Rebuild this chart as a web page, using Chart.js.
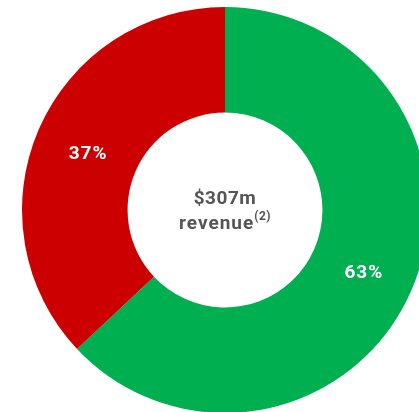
<!DOCTYPE html>
<html>
<head>
<meta charset="utf-8">
<script src="https://cdn.jsdelivr.net/npm/chart.js@4"></script>
<style>
  html, body { margin: 0; padding: 0; background: #fff; overflow: hidden; }
  #wrap { position: absolute; left: 0; top: 0; width: 450px; height: 420px; }
</style>
</head>
<body>
<div id="wrap"><canvas id="myChart" width="450" height="420"></canvas></div>
<script>
const labels = ['Segment A', 'Segment B'];
const values = [63, 37];
const colors = ['#00AF50', '#CC0000'];
const totalText = '$307m';
const subText = 'revenue';
const noteText = '(2)';

const labelPlugin = {
    id: 'labelPlugin',
    afterDatasetsDraw(chart) {
        const ctx = chart.ctx;
        const meta = chart.getDatasetMeta(0);
        ctx.save();
        ctx.fillStyle = '#ffffff';
        ctx.font = 'bold 19px Roboto';
        ctx.letterSpacing = '1px';
        ctx.textAlign = 'center';
        ctx.textBaseline = 'middle';
        meta.data.forEach((arc, i) => {
            const p = arc.tooltipPosition();
            ctx.fillText(values[i] + '%', p.x + 1, p.y + 4);
        });

        // centre text
        const cx = (chart.chartArea.left + chart.chartArea.right) / 2;
        const cy = (chart.chartArea.top + chart.chartArea.bottom) / 2;
        ctx.fillStyle = '#555555';
        ctx.font = 'bold 19px Roboto';
        ctx.letterSpacing = '0.5px';
        ctx.fillText(totalText, cx, cy - 11);
        ctx.font = 'bold 19px Roboto';
        ctx.letterSpacing = '1px';
        const w1 = ctx.measureText(subText).width;
        ctx.font = 'bold 12px Roboto';
        ctx.letterSpacing = '0.5px';
        const w2 = ctx.measureText(noteText).width;
        const startX = cx - (w1 + w2) / 2;
        ctx.textAlign = 'left';
        ctx.font = 'bold 19px Roboto';
        ctx.letterSpacing = '1px';
        ctx.fillText(subText, startX, cy + 14);
        ctx.font = 'bold 12px Roboto';
        ctx.letterSpacing = '0.5px';
        ctx.fillText(noteText, startX + w1, cy + 7);
        ctx.restore();
    }
};

new Chart(document.getElementById('myChart').getContext('2d'), {
    type: 'doughnut',
    data: {
        labels: labels,
        datasets: [{
            data: values,
            backgroundColor: colors,
            borderWidth: 0,
            hoverOffset: 0
        }]
    },
    options: {
        responsive: false,
        animation: false,
        cutout: '48%',
        layout: { padding: { top: 7, bottom: 7 } },
        plugins: {
            legend: { display: false },
            tooltip: { enabled: false }
        }
    },
    plugins: [labelPlugin]
});
</script>
</body>
</html>
